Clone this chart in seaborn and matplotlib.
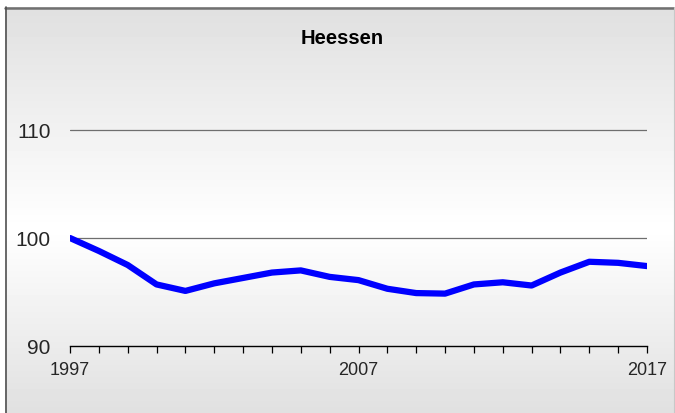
import numpy as np
import pandas as pd
import matplotlib
matplotlib.use('Agg')
import matplotlib.pyplot as plt
import seaborn as sns

# Index values per year (1997 = 100)
years = list(range(1997, 2018))
values = [100.0, 98.8, 97.5, 95.7, 95.1, 95.8, 96.3, 96.8, 97.0, 96.4,
          96.1, 95.3, 94.9, 94.85, 95.7, 95.9, 95.6, 96.8, 97.8, 97.7, 97.4]
title = 'Heessen'
ytick_vals = [90, 100, 110]
xtick_labels = [1997, 2007, 2017]

df = pd.DataFrame({'year': years, 'value': values})

sns.set_theme(style='white')
plt.rcParams['font.family'] = ['Liberation Sans', 'DejaVu Sans']

W, H = 675, 414
fig = plt.figure(figsize=(W / 100, H / 100), dpi=100)
fig.patch.set_facecolor('white')

# background frame with vertical gray-white-gray gradient
bg = fig.add_axes([0, 0, 1, 1], zorder=0)
rows = np.arange(H)
shade = np.interp(rows, [8, 230, 414], [224, 255, 224]) / 255.0
img = np.repeat(shade[:, None], W, axis=1)
img[:8, :] = 1.0
img[:, :5] = 1.0
bg.imshow(img, cmap='gray', vmin=0, vmax=1, aspect='auto',
          extent=[0, W, H, 0], interpolation='bilinear')
bg.plot([5, W], [8.5, 8.5], color='#707070', lw=1.8)
bg.plot([5.5, 5.5], [8, H], color='#505050', lw=1.2)
bg.plot([673.5, 673.5], [8, H], color='#c8c8c8', lw=0.8)
bg.set_xlim(0, W)
bg.set_ylim(H, 0)
bg.axis('off')

ax = fig.add_axes([70 / W, 1 - 347 / H, 577 / W, (347 - 77) / H], zorder=1)
ax.patch.set_alpha(0)

for v in ytick_vals[1:]:
    ax.axhline(v, color='#6e6e6e', lw=0.9, zorder=1)

sns.lineplot(data=df, x='year', y='value', ax=ax, color='#0000ff',
             linewidth=4.5, zorder=3, solid_capstyle='round',
             solid_joinstyle='round')

ax.set_xlim(1997, 2017)
ax.set_ylim(90, 115)
ax.set_xticks(years)
ax.set_xticklabels([str(y) if y in xtick_labels else '' for y in years])
ax.set_yticks(ytick_vals)
ax.set_yticklabels([str(v) for v in ytick_vals])
ax.tick_params(axis='x', direction='out', length=5, width=0.9,
               color='black', pad=6, labelsize=13, bottom=True)
ax.tick_params(axis='y', length=0, pad=14, labelsize=15)
for side in ['top', 'right', 'left']:
    ax.spines[side].set_visible(False)
ax.spines['bottom'].set_color('black')
ax.spines['bottom'].set_linewidth(1.0)
ax.set_xlabel('')
ax.set_ylabel('')

fig.text(342 / W, 1 - 39 / H, title, ha='center', va='center',
         fontsize=14.5, fontweight='bold', color='black')

fig.savefig('out.png', dpi=100)
